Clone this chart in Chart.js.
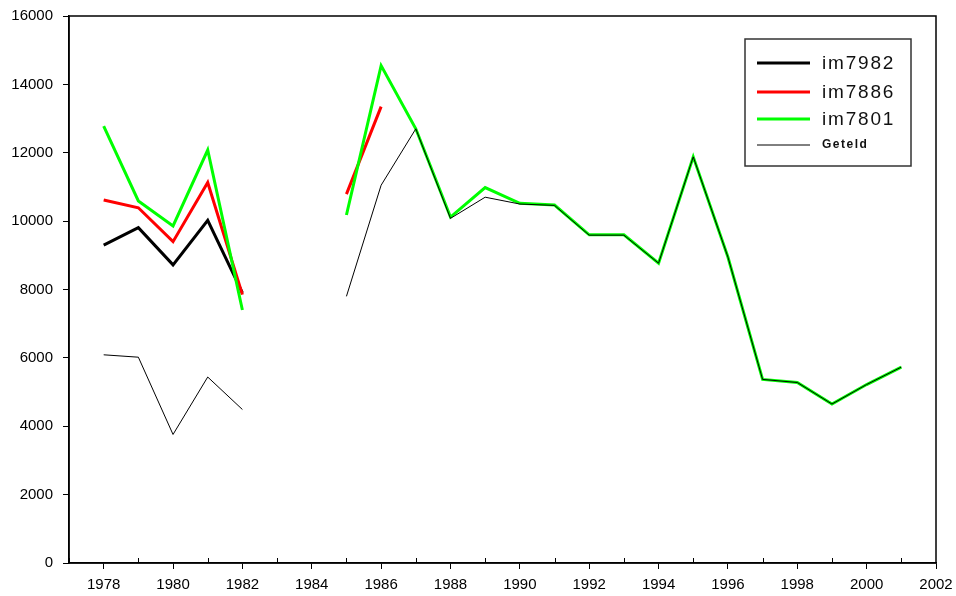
<!DOCTYPE html>
<html>
<head>
<meta charset="utf-8">
<script src="https://cdn.jsdelivr.net/npm/chart.js@4.4.1/dist/chart.umd.min.js"></script>
<style>
    html, body { margin: 0; padding: 0; background: #fff; }
    #wrap { width: 956px; height: 596px; position: relative; }
</style>
</head>
<body>
<div id="wrap"><canvas id="importchart"></canvas></div>
<script>
"use strict";

/* data */
var years = [1978, 1979, 1980, 1981, 1982, 1983, 1984, 1985, 1986, 1987, 1988, 1989,
    1990, 1991, 1992, 1993, 1994, 1995, 1996, 1997, 1998, 1999, 2000, 2001];
var im7982 = [9300, 9810, 8720, 10020, 7900, null, null, null, null, null, null, null,
    null, null, null, null, null, null, null, null, null, null, null, null];
var im7886 = [10620, 10390, 9400, 11130, 7850, null, null, 10790, 13350, null, null, null,
    null, null, null, null, null, null, null, null, null, null, null, null];
var im7801 = [12780, 10590, 9860, 12080, 7400, null, null, 10180, 14550, 12700, 10120, 10980,
    10520, 10470, 9600, 9600, 8770, 11880, 8950, 5370, 5280, 4650, 5220, 5730];
var geteld = [6090, 6020, 3760, 5440, 4490, null, null, 7800, 11050, 12700, 10080, 10700,
    10500, 10460, 9590, 9590, 8770, 11880, 8950, 5370, 5280, 4650, 5220, 5730];
var yTicks = [0, 2000, 4000, 6000, 8000, 10000, 12000, 14000, 16000];

function toPoints(vals) {
    return years.map(function (yr, i) {
        return { x: yr, y: vals[i] };
    });
}

/* draw text char by char with extra spacing */
function spacedText(ctx, text, x, y, gap) {
    text.split('').forEach(function (ch) {
        ctx.fillText(ch, x, y);
        x += ctx.measureText(ch).width + gap;
    });
}

/* frame, inner minor ticks and legend box */
var framePlugin = {
    id: 'frame',
    afterDraw: function (chart) {
        var ctx = chart.ctx;
        var a = chart.chartArea;
        var xs = chart.scales.x;
        ctx.save();
        ctx.strokeStyle = '#000';
        ctx.lineWidth = 1.5;
        ctx.strokeRect(a.left, a.top, a.right - a.left, a.bottom - a.top);
        // odd years: small ticks pointing into the plot
        ctx.lineWidth = 1;
        for (var yr = 1977; yr <= 2002; yr++) {
            if (yr % 2 === 1) {
                var px = Math.round(xs.getPixelForValue(yr)) + 0.5;
                ctx.beginPath();
                ctx.moveTo(px, a.bottom);
                ctx.lineTo(px, a.bottom - 5);
                ctx.stroke();
            }
        }
        // legend
        var bx = 745, by = 39, bw = 166, bh = 127;
        ctx.fillStyle = '#fff';
        ctx.fillRect(bx, by, bw, bh);
        ctx.strokeStyle = '#333';
        ctx.lineWidth = 1.5;
        ctx.strokeRect(bx, by, bw, bh);
        var rows = [63, 92, 119, 145];
        var ordered = chart.data.datasets.slice().sort(function (p, q) { return p.legendIndex - q.legendIndex; });
        ordered.forEach(function (ds, i) {
            var ly = rows[i];
            ctx.strokeStyle = ds.borderColor;
            ctx.lineWidth = ds.borderWidth;
            ctx.beginPath();
            ctx.moveTo(757, ly);
            ctx.lineTo(810, ly);
            ctx.stroke();
            ctx.fillStyle = '#111';
            ctx.textBaseline = 'middle';
            ctx.textAlign = 'left';
            if (ds.borderWidth > 1) {
                ctx.font = '19px "Liberation Sans", Arial, sans-serif';
                spacedText(ctx, ds.label, 822, ly + 1, 1.8);
            } else {
                ctx.font = 'bold 12px "Liberation Sans", Arial, sans-serif';
                spacedText(ctx, ds.label, 822, ly, 1.5);
            }
        });
        ctx.restore();
    }
};

var ctxImport = document.getElementById('importchart').getContext('2d');

var importConfig = {
    type: 'line',
    data: {
        datasets: [{
            label: 'Geteld',
            legendIndex: 3,
            data: toPoints(geteld),
            borderColor: '#000000',
            borderWidth: 1,
            order: 0,
        },
        {
            label: 'im7801',
            legendIndex: 2,
            data: toPoints(im7801),
            borderColor: '#00ff00',
            borderWidth: 3,
            order: 1,
        },
        {
            label: 'im7886',
            legendIndex: 1,
            data: toPoints(im7886),
            borderColor: '#ff0000',
            borderWidth: 3,
            order: 2,
        },
        {
            label: 'im7982',
            legendIndex: 0,
            data: toPoints(im7982),
            borderColor: '#000000',
            borderWidth: 3,
            order: 3,
        }]
    },
    options: {
        responsive: true,
        maintainAspectRatio: false,
        animation: false,
        spanGaps: false,
        elements: {
            point: { radius: 0, hoverRadius: 0 },
            line: { tension: 0, fill: false, borderJoinStyle: 'miter' }
        },
        layout: {
            padding: { top: 16, right: 20, left: 0, bottom: 0 }
        },
        plugins: {
            legend: { display: false },
            tooltip: { enabled: false }
        },
        scales: {
            x: {
                type: 'linear',
                min: 1977,
                max: 2002,
                afterBuildTicks: function (scale) {
                    scale.ticks = [];
                    for (var yr = 1977; yr <= 2002; yr++) {
                        scale.ticks.push({ value: yr });
                    }
                },
                afterFit: function (scale) {
                    scale.height = 33;
                    scale.paddingLeft = 0;
                    scale.paddingRight = 0;
                },
                border: { display: true, color: '#000', width: 1.5 },
                grid: {
                    drawOnChartArea: false,
                    tickLength: 6,
                    tickColor: function (c) {
                        return c.tick && c.tick.value % 2 === 0 ? '#000' : 'rgba(0,0,0,0)';
                    }
                },
                ticks: {
                    autoSkip: false,
                    maxRotation: 0,
                    padding: 7,
                    color: '#000',
                    font: { family: '"Liberation Sans", Arial, sans-serif', size: 15 },
                    callback: function (v) { return v % 2 === 0 ? String(v) : ''; }
                }
            },
            y: {
                min: 0,
                max: 16000,
                afterBuildTicks: function (scale) {
                    scale.ticks = yTicks.map(function (v) { return { value: v }; });
                },
                afterFit: function (scale) {
                    scale.width = 69;
                    scale.paddingTop = 0;
                    scale.paddingBottom = 0;
                },
                border: { display: true, color: '#000', width: 1.5 },
                grid: {
                    drawOnChartArea: false,
                    tickLength: 6,
                    tickColor: '#000'
                },
                ticks: {
                    padding: 10,
                    color: '#000',
                    font: { family: '"Liberation Sans", Arial, sans-serif', size: 15 },
                    callback: function (v) { return String(v); }
                }
            }
        }
    },
    plugins: [framePlugin]
};

var importChart = new Chart(ctxImport, importConfig);
</script>
</body>
</html>
